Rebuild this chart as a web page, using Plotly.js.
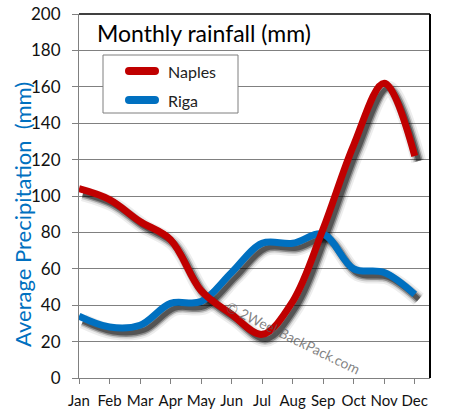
<!DOCTYPE html>
<html>
<head>
<meta charset="utf-8">
<script src="https://cdn.plot.ly/plotly-3.0.1.min.js"></script>
<style>html,body{margin:0;padding:0;background:#fff;}#chart{width:451px;height:418px;}</style>
</head>
<body>
<div id="chart"></div>
<script>
const months = ["Jan","Feb","Mar","Apr","May","Jun","Jul","Aug","Sep","Oct","Nov","Dec"];
const naples = [104, 98, 86, 76, 48, 35, 24, 42, 82, 128, 162, 122];
const riga = [34, 28, 29, 41, 42, 58, 74, 74, 79, 60, 58, 46];
const yTicks = [0, 20, 40, 60, 80, 100, 120, 140, 160, 180, 200];
const seriesNames = ["Naples", "Riga"];
const seriesColors = ["#c00000", "#0070c0"];
const seriesData = [naples, riga];

const FONT = "Lato, 'Open Sans', sans-serif";
const idx = months.map((m, i) => i);

const W = 451, H = 418;
const margin = {l: 79, r: 21, t: 14, b: 40};
const plotW = W - margin.l - margin.r;
const plotH = H - margin.t - margin.b;
const xRange = [0, 11.5];
const yRange = [0, 200];
// shadow offset: 4px right, 5px down
const dxUnits = 4 * (xRange[1] - xRange[0]) / plotW;
const dyUnits = 5 * (yRange[1] - yRange[0]) / plotH;

const traces = [];
traces.push({x: idx, y: riga, mode: "lines", line: {width: 0, color: "rgba(0,0,0,0)"}, hoverinfo: "skip", showlegend: false, xaxis: "x", yaxis: "y"});
[1, 0].forEach(s => {
  [[15, 0.07], [11, 0.14], [8, 0.3], [5, 0.4]].forEach(([w, a]) => {
    traces.push({x: idx, y: seriesData[s], mode: "lines", line: {shape: "spline", smoothing: 1, width: w, color: "rgba(0,0,0," + a + ")"}, hoverinfo: "skip", showlegend: false, xaxis: "x2", yaxis: "y2"});
  });
});
[1, 0].forEach(s => {
  traces.push({x: idx, y: seriesData[s], name: seriesNames[s], mode: "lines", line: {shape: "spline", smoothing: 1, width: 7, color: seriesColors[s]}, showlegend: false, xaxis: "x3", yaxis: "y3"});
});

const px = v => (v - margin.l) / plotW;
const py = v => (H - margin.b - v) / plotH;

const shapes = [
  {type: "line", xref: "paper", yref: "paper", x0: 0, x1: 1, y0: 1, y1: 1, line: {color: "#000", width: 1.5}, layer: "above"},
  {type: "line", xref: "paper", yref: "paper", x0: 1, x1: 1, y0: 0, y1: 1, line: {color: "#000", width: 2}, layer: "above"},
  {type: "rect", xref: "paper", yref: "paper", x0: px(103), x1: px(238), y0: py(113), y1: py(55), line: {color: "#7f7f7f", width: 1}, fillcolor: "#fff", layer: "above"}
];
const annotations = [
  {xref: "paper", yref: "paper", x: px(95), y: py(33), xanchor: "left", yanchor: "middle", text: "Monthly rainfall (mm)", showarrow: false, font: {family: FONT, size: 23, color: "#000"}},
  {xref: "paper", yref: "paper", x: px(22), y: py(215), xanchor: "center", yanchor: "middle", textangle: -90, text: "Average Precipitation  (mm)", showarrow: false, font: {family: FONT, size: 22, color: "#0070c0"}},
  {xref: "paper", yref: "paper", x: px(293), y: py(337), xanchor: "center", yanchor: "middle", textangle: 26, text: "© 2WeekBackPack.com", showarrow: false, font: {family: FONT, size: 14, color: "rgba(90,90,90,0.75)"}}
];
const legendY = [71, 100];
seriesNames.forEach((n, i) => {
  const yy = py(legendY[i]);
  shapes.push({type: "line", xref: "paper", yref: "paper", x0: px(129), x1: px(155), y0: yy, y1: yy, line: {color: seriesColors[i], width: 8}, layer: "above"});
  [129, 155].forEach(xx => {
    shapes.push({type: "circle", xref: "paper", yref: "paper", xsizemode: "pixel", ysizemode: "pixel", xanchor: px(xx), yanchor: yy, x0: -4, x1: 4, y0: -4, y1: 4, line: {width: 0}, fillcolor: seriesColors[i], layer: "above"});
  });
  annotations.push({xref: "paper", yref: "paper", x: px(166), y: yy, xanchor: "left", yanchor: "middle", text: n, showarrow: false, font: {family: FONT, size: 16, color: "#222"}});
});

const layout = {
  width: W, height: H,
  margin: margin,
  paper_bgcolor: "#fff", plot_bgcolor: "#fff",
  showlegend: false,
  font: {family: FONT},
  xaxis: {range: xRange, tickvals: idx, ticktext: months, ticks: "outside", ticklen: 5, tickcolor: "#808080", showgrid: false, zeroline: false, showline: true, linecolor: "#808080", linewidth: 1, tickfont: {family: FONT, size: 15, color: "#111"}, ticklabelstandoff: 4, fixedrange: true},
  yaxis: {range: yRange, tickvals: yTicks, ticks: "outside", ticklen: 6, tickcolor: "#808080", showgrid: true, gridcolor: "#808080", gridwidth: 1, zeroline: false, showline: true, linecolor: "#808080", linewidth: 1, tickfont: {family: FONT, size: 17, color: "#111"}, ticklabelstandoff: 8, fixedrange: true},
  xaxis2: {overlaying: "x", range: [xRange[0] - dxUnits, xRange[1] - dxUnits], visible: false, fixedrange: true},
  yaxis2: {overlaying: "y", range: [yRange[0] + dyUnits, yRange[1] + dyUnits], visible: false, fixedrange: true},
  xaxis3: {overlaying: "x", range: xRange, visible: false, fixedrange: true},
  yaxis3: {overlaying: "y", range: yRange, visible: false, fixedrange: true},
  shapes: shapes,
  annotations: annotations
};
Plotly.newPlot("chart", traces, layout, {staticPlot: true, displayModeBar: false});
</script>
</body>
</html>
